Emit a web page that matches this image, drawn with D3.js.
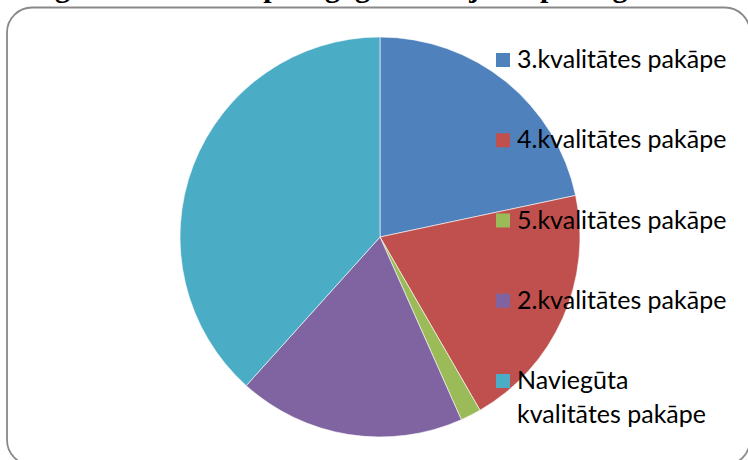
<!DOCTYPE html>
<html>
<head>
<meta charset="utf-8">
<script src="https://cdn.jsdelivr.net/npm/d3@7"></script>
<style>
  html, body { margin: 0; padding: 0; background: #fff; }
  svg { display: block; }
</style>
</head>
<body>
<svg id="chart"></svg>
<script>
// pie slices, clockwise from 12 o'clock
const labels = [
  '3.kvalitātes pakāpe',
  '4.kvalitātes pakāpe',
  '5.kvalitātes pakāpe',
  '2.kvalitātes pakāpe',
  'Naviegūta kvalitātes pakāpe'
];
const counts = [13, 12, 1, 11, 23];
const colors = ['#4F81BD', '#C0504D', '#9BBB59', '#8064A2', '#4BACC6'];
const title = 'Izglītības iestādes pedagogu sadalījums pēc iegūtās kvalitātes pakāpes';

const width = 748;
const height = 460;
const cx = 380, cy = 237, radius = 200;

const svg = d3.select('#chart').attr('width', width).attr('height', height);

// title, cut off at the top like in the source page
svg.append('text')
  .attr('x', 30)
  .attr('y', -3)
  .style('font-family', '"Liberation Serif", serif')
  .style('font-weight', 'bold')
  .style('font-size', '30px')
  .style('fill', '#000')
  .text(title);

// chart frame
svg.append('rect')
  .attr('x', 7)
  .attr('y', 7.5)
  .attr('width', 743)
  .attr('height', 457.5)
  .attr('rx', 25)
  .attr('ry', 25)
  .style('fill', 'none')
  .style('stroke', '#898989')
  .style('stroke-width', 1.8);

const pie = d3.pie().sort(null).value(d => d);
const arc = d3.arc().innerRadius(0).outerRadius(radius);
const color = d3.scaleOrdinal().domain(labels).range(colors);

svg.append('g')
  .attr('transform', `translate(${cx},${cy})`)
  .selectAll('path')
  .data(pie(counts))
  .enter()
  .append('path')
  .attr('d', arc)
  .style('fill', (d, i) => color(labels[i]))
  .style('stroke', '#fff')
  .style('stroke-width', 0.6);

// legend
const legendX = 496;
const legendMaxW = 232;
const rowY = d3.scaleLinear().domain([0, labels.length - 1]).range([60, 381]);

const legend = svg.append('g')
  .selectAll('g')
  .data(labels)
  .enter()
  .append('g')
  .attr('transform', (d, i) => `translate(${legendX},${rowY(i)})`);

legend.append('rect')
  .attr('x', 0)
  .attr('y', -7)
  .attr('width', 14)
  .attr('height', 14)
  .style('fill', d => color(d));

legend.append('text')
  .attr('x', 21)
  .attr('y', 8)
  .style('font-family', 'Lato, sans-serif')
  .style('font-size', '25px')
  .style('fill', '#000')
  .each(function(d) {
    const t = d3.select(this);
    const words = d.split(' ');
    let line = [];
    let tspan = t.append('tspan').attr('x', 21).attr('dy', 0);
    words.forEach(w => {
      line.push(w);
      tspan.text(line.join(' '));
      if (tspan.node().getComputedTextLength() > legendMaxW - 21 && line.length > 1) {
        line.pop();
        tspan.text(line.join(' '));
        line = [w];
        tspan = t.append('tspan').attr('x', 21).attr('dy', 34).text(w);
      }
    });
  });
</script>
</body>
</html>
